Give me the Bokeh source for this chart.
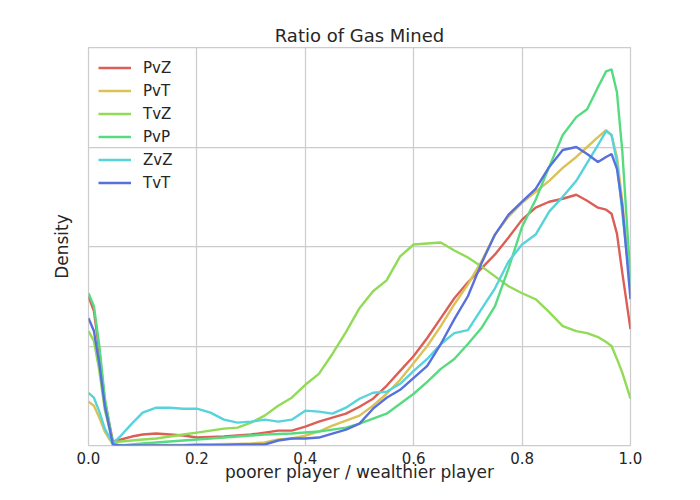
from bokeh.plotting import figure
from bokeh.models import FixedTicker, Legend, LegendItem, Range1d, PrintfTickFormatter
from bokeh.embed import file_html
from bokeh.resources import INLINE

# ---- data ----
x = [0, .01, .02, .03, .045, .06, .08, .1, .125, .15, .175, .2, .225, .25, .275, .3,
     .325, .35, .375, .4, .425, .45, .475, .5, .525, .55, .575, .6, .625, .65, .675,
     .7, .725, .75, .775, .8, .825, .85, .875, .9, .92, .94, .955, .965, .975, .985, 1.0]

pvz = [1.5, 1.35, .95, .45, .04, .06, .09, .11, .12, .11, .1, .08, .085, .09, .1, .11,
       .13, .15, .15, .19, .24, .28, .32, .39, .47, .6, .75, .9, 1.08, 1.28, 1.48,
       1.64, 1.78, 1.92, 2.09, 2.27, 2.39, 2.45, 2.48, 2.52, 2.46, 2.39, 2.37, 2.33, 2.13, 1.73, 1.17]
pvt = [.44, .4, .28, .14, .01, 0, 0, .005, .005, .005, .005, .01, .01, .015, .015, .02,
       .03, .06, .07, .1, .14, .2, .25, .3, .4, .52, .66, .83, 1.0, 1.2, 1.42,
       1.62, 1.85, 2.12, 2.3, 2.44, 2.55, 2.66, 2.79, 2.9, 3.0, 3.1, 3.17, 3.12, 2.9, 2.45, 1.55]
tvz = [1.15, 1.05, .75, .36, .03, .04, .05, .06, .07, .09, .11, .13, .15, .17, .18, .23,
       .3, .4, .48, .61, .72, .92, 1.14, 1.38, 1.55, 1.66, 1.9, 2.02, 2.03, 2.04, 1.96,
       1.89, 1.8, 1.7, 1.6, 1.53, 1.47, 1.34, 1.2, 1.15, 1.13, 1.09, 1.04, 1.0, .87, .73, .47]
pvp = [1.53, 1.4, 1.0, .48, .01, 0, .01, .02, .03, .04, .05, .06, .07, .08, .09, .1,
       .11, .115, .12, .13, .14, .16, .18, .22, .27, .32, .42, .52, .64, .77, .87,
       1.02, 1.18, 1.4, 1.78, 2.2, 2.47, 2.8, 3.12, 3.3, 3.38, 3.6, 3.76, 3.78, 3.55, 2.95, 1.67]
zvz = [.53, .48, .34, .17, .02, .1, .22, .33, .38, .38, .37, .37, .33, .26, .23, .24,
       .26, .24, .26, .35, .34, .32, .38, .47, .53, .54, .62, .75, .87, 1.02, 1.13,
       1.16, 1.37, 1.58, 1.85, 2.02, 2.12, 2.35, 2.5, 2.66, 2.84, 3.02, 3.16, 3.12, 2.85, 2.33, 1.6]
tvt = [1.28, 1.15, .82, .4, .01, 0, 0, 0, 0, 0, 0, .005, .005, .005, .01, .01,
       .01, .05, .07, .07, .08, .12, .16, .22, .37, .48, .56, .68, .8, 1.02, 1.27,
       1.5, 1.83, 2.12, 2.32, 2.45, 2.58, 2.8, 2.97, 3.0, 2.93, 2.85, 2.9, 2.93, 2.78, 2.4, 1.47]

labels = ["PvZ", "PvT", "TvZ", "PvP", "ZvZ", "TvT"]
colors = ["#db5f57", "#dbc257", "#91db57", "#57db80", "#57d3db", "#5770db"]
x_ticks = [0, 0.2, 0.4, 0.6, 0.8, 1.0]
y_grid = [0, 1, 2, 3, 4]

FONT = "DejaVu Sans"
TXT = "#262626"
GRID = "#cccccc"

p = figure(width=684, height=484, output_backend="svg", toolbar_location=None,
           x_range=Range1d(0, 1), y_range=Range1d(0, 4), title="Ratio of Gas Mined",
           min_border_left=88, min_border_right=54, min_border_top=47, min_border_bottom=39)

p.title.align = "center"
p.title.text_font = FONT
p.title.text_font_size = "18px"
p.title.text_font_style = "normal"
p.title.text_color = TXT
p.title.standoff = 4

p.outline_line_color = GRID
p.outline_line_width = 1.25
p.background_fill_color = "white"
p.border_fill_color = "white"

p.xaxis.ticker = FixedTicker(ticks=x_ticks)
p.xaxis.formatter = PrintfTickFormatter(format="%.1f")
p.yaxis.ticker = FixedTicker(ticks=[])
p.ygrid.ticker = FixedTicker(ticks=y_grid)
for ax in (p.xaxis[0], p.yaxis[0]):
    ax.axis_line_color = None
    ax.major_tick_line_color = None
    ax.minor_tick_line_color = None
    ax.axis_label_text_font = FONT
    ax.axis_label_text_font_style = "normal"
    ax.axis_label_text_font_size = "17px"
    ax.axis_label_text_color = TXT
    ax.major_label_text_font = FONT
    ax.major_label_text_color = TXT
p.xaxis.axis_label = "poorer player / wealthier player"
p.xaxis.major_label_text_font_size = "15px"
p.xaxis.major_label_standoff = 0
p.xaxis.axis_label_standoff = -5
p.yaxis.axis_label = "Density"
p.yaxis.major_label_standoff = 0
p.yaxis.axis_label_standoff = 17

p.xgrid.grid_line_color = GRID
p.ygrid.grid_line_color = GRID
p.xgrid.grid_line_width = 1.25
p.ygrid.grid_line_width = 1.25

items = []
for lab, ys, col in zip(labels, [pvz, pvt, tvz, pvp, zvz, tvt], colors):
    r = p.line(x, ys, line_color=col, line_width=2.4)
    items.append(LegendItem(label=lab, renderers=[r]))

legend = Legend(items=items, location="top_left", border_line_color=None,
                background_fill_alpha=0, margin=10, padding=10, spacing=2,
                glyph_width=33, glyph_height=21, label_height=21, label_standoff=12,
                label_text_font=FONT, label_text_font_size="15px", label_text_color=TXT)
p.add_layout(legend)

open("out.html", "w").write(file_html(p, INLINE))
